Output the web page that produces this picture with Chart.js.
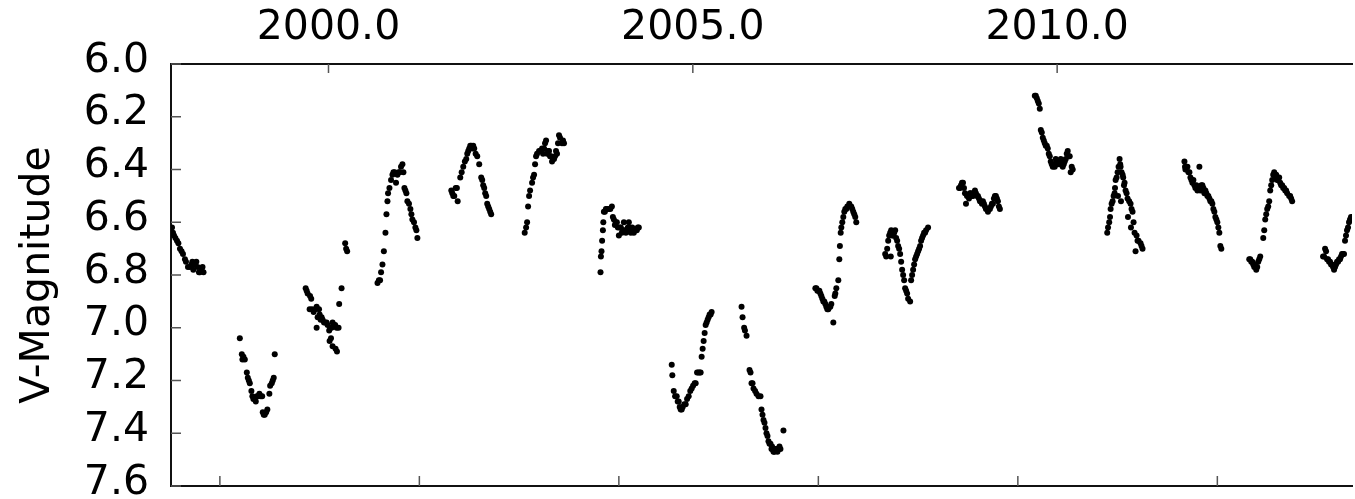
<!DOCTYPE html>
<html>
<head>
<meta charset="utf-8">
<title>V-Magnitude light curve</title>
<script src="https://cdn.jsdelivr.net/npm/chart.js@4.4.1/dist/chart.umd.min.js"></script>
<style>
  html, body { margin: 0; padding: 0; background: #fff; }
  #wrap { width: 1355px; height: 499px; position: relative; }
</style>
</head>
<body>
<div id="wrap"><canvas id="lightCurve"></canvas></div>
<script>
// Observations: JD - 2450000 and visual magnitude, one line per observing season
const JD_BASE = 2450000;

const jdObs = [
  760, 765, 770, 777, 785, 792, 800, 808, 815, 825, 830, 840, 850, 858, 862, 867, 875, 882, 888, 895, 900, 908, 913, 918,
  1100, 1110, 1113, 1118, 1125, 1135, 1140, 1145, 1150, 1158, 1163, 1168, 1175, 1180, 1185, 1192, 1198, 1205, 1212, 1215, 1220, 1225, 1232, 1238, 1248, 1252, 1260, 1265, 1270, 1275,
  1430, 1435, 1440, 1452, 1458, 1450, 1462, 1470, 1478, 1485, 1490, 1497, 1500, 1505, 1510, 1515, 1522, 1528, 1535, 1540, 1548, 1553, 1560, 1565, 1572, 1578, 1585, 1595, 1485, 1550, 1557, 1565, 1580, 1587, 1598, 1610, 1628, 1633, 1638,
  1790, 1797, 1803, 1808, 1815, 1822, 1830, 1835, 1840, 1843, 1850, 1858, 1865, 1870, 1876, 1883, 1890, 1896, 1902, 1908, 1915, 1920, 1925, 1930, 1935, 1940, 1948, 1955, 1960, 1965, 1973, 1980, 1985, 1990,
  2160, 2165, 2170, 2175, 2182, 2188, 2192, 2205, 2212, 2220, 2228, 2235, 2240, 2245, 2250, 2255, 2260, 2265, 2270, 2275, 2282, 2290, 2300, 2310, 2315, 2320, 2325, 2330, 2335, 2340, 2345, 2350, 2355, 2360,
  2528, 2535, 2540, 2545, 2550, 2555, 2565, 2570, 2575, 2580, 2585, 2590, 2600, 2607, 2615, 2620, 2625, 2630, 2635, 2640, 2645, 2650, 2655, 2660, 2665, 2670, 2675, 2680, 2685, 2690, 2695, 2700, 2705, 2715, 2720, 2725,
  2908, 2910, 2913, 2916, 2920, 2922, 2925, 2930, 2935, 2940, 2950, 2957, 2965, 2970, 2975, 2980, 2985, 2990, 2995, 3000, 3005, 3010, 3015, 3020, 3025, 3030, 3035, 3040, 3045, 3050, 3055, 3060, 3067, 3075, 3082, 3090, 3095, 3100,
  3265, 3268, 3275, 3282, 3290, 3295, 3300, 3305, 3310, 3315, 3320, 3328, 3335, 3342, 3350, 3358, 3365, 3372, 3380, 3385, 3392, 3398, 3405, 3410, 3415, 3420, 3425, 3430, 3435, 3440, 3445, 3450, 3455, 3460, 3465,
  3615, 3620, 3628, 3632, 3640, 3655, 3660, 3665, 3670, 3675, 3683, 3690, 3700, 3710, 3715, 3720, 3725, 3730, 3735, 3740, 3745, 3750, 3755, 3760, 3765, 3768, 3770, 3775, 3780, 3785, 3790, 3795, 3800, 3805, 3810, 3825,
  3985, 3990, 3995, 4000, 4005, 4010, 4015, 4020, 4025, 4030, 4035, 4040, 4045, 4050, 4055, 4060, 4065, 4075, 4082, 4085, 4090, 4100, 4105, 4108, 4112, 4115, 4120, 4125, 4130, 4135, 4140, 4145, 4150, 4155, 4160, 4165, 4170, 4175, 4180, 4185, 4190,
  4335, 4340, 4345, 4350, 4355, 4360, 4363, 4365, 4370, 4375, 4380, 4385, 4390, 4395, 4400, 4405, 4410, 4415, 4420, 4425, 4430, 4435, 4440, 4445, 4450, 4460, 4465, 4470, 4475, 4480, 4485, 4490, 4495, 4500, 4505, 4510, 4515, 4520, 4525, 4530, 4535, 4540, 4550,
  4705, 4710, 4715, 4720, 4725, 4730, 4735, 4740, 4745, 4750, 4755, 4760, 4765, 4770, 4775, 4780, 4785, 4790, 4795, 4800, 4805, 4810, 4815, 4820, 4825, 4830, 4835, 4840, 4845, 4850, 4855, 4860, 4865, 4870, 4875, 4880, 4885, 4890, 4895, 4900, 4905, 4910,
  5085, 5090, 5095, 5100, 5105, 5110, 5115, 5120, 5125, 5130, 5135, 5140, 5145, 5150, 5155, 5160, 5165, 5170, 5175, 5180, 5185, 5190, 5195, 5200, 5205, 5210, 5215, 5220, 5225, 5230, 5235, 5240, 5245, 5250, 5255, 5260, 5265, 5270, 5275,
  5448, 5452, 5458, 5462, 5465, 5470, 5475, 5480, 5485, 5487, 5490, 5495, 5500, 5502, 5505, 5510, 5513, 5515, 5517, 5520, 5525, 5528, 5532, 5535, 5540, 5545, 5550, 5552, 5558, 5565, 5567, 5570, 5575, 5580, 5585, 5590, 5595, 5600, 5605, 5615, 5620, 5625,
  5835, 5838, 5840, 5845, 5850, 5855, 5860, 5865, 5870, 5875, 5880, 5885, 5890, 5895, 5900, 5905, 5910, 5915, 5920, 5925, 5930, 5935, 5940, 5945, 5950, 5955, 5960, 5965, 5970, 5975, 5980, 5985, 5990, 5995, 6000, 6005, 6010, 6015, 6020,
  6160, 6165, 6170, 6175, 6180, 6185, 6190, 6195, 6200, 6205, 6210, 6215, 6230, 6235, 6240, 6245, 6250, 6255, 6260, 6265, 6270, 6275, 6280, 6285, 6290, 6295, 6300, 6305, 6310, 6315, 6320, 6325, 6330, 6335, 6340, 6345, 6350, 6360, 6365, 6370, 6375,
  6530, 6535, 6540, 6545, 6550, 6555, 6560, 6565, 6570, 6575, 6580, 6585, 6590, 6595, 6600, 6605, 6610, 6615, 6620, 6625, 6630, 6635, 6640, 6645, 6650, 6655, 6660, 6665, 6670
];

const vMag = [
  6.62, 6.64, 6.65, 6.66, 6.67, 6.68, 6.70, 6.71, 6.72, 6.74, 6.75, 6.77, 6.77, 6.76, 6.75, 6.78, 6.76, 6.75, 6.77, 6.79, 6.79, 6.78, 6.77, 6.79,
  7.04, 7.10, 7.12, 7.11, 7.12, 7.17, 7.19, 7.20, 7.21, 7.24, 7.26, 7.27, 7.27, 7.28, 7.26, 7.26, 7.25, 7.26, 7.26, 7.32, 7.33, 7.33, 7.32, 7.31, 7.25, 7.22, 7.21, 7.20, 7.19, 7.10,
  6.85, 6.86, 6.87, 6.88, 6.89, 6.93, 6.93, 6.94, 6.93, 6.92, 6.96, 6.93, 6.95, 6.97, 6.96, 6.97, 6.98, 6.98, 6.98, 6.99, 7.01, 7.00, 7.00, 6.98, 6.99, 6.99, 7.00, 7.00, 7.00, 7.05, 7.04, 7.07, 7.08, 7.09, 6.91, 6.85, 6.68, 6.70, 6.71,
  6.83, 6.82, 6.82, 6.79, 6.76, 6.71, 6.64, 6.57, 6.52, 6.49, 6.47, 6.44, 6.42, 6.41, 6.41, 6.45, 6.42, 6.41, 6.41, 6.39, 6.38, 6.41, 6.47, 6.48, 6.49, 6.52, 6.53, 6.55, 6.57, 6.59, 6.60, 6.62, 6.63, 6.66,
  6.48, 6.49, 6.50, 6.50, 6.47, 6.47, 6.52, 6.43, 6.41, 6.39, 6.37, 6.36, 6.34, 6.33, 6.32, 6.31, 6.31, 6.32, 6.31, 6.32, 6.34, 6.35, 6.38, 6.43, 6.44, 6.46, 6.47, 6.49, 6.50, 6.53, 6.54, 6.55, 6.56, 6.57,
  6.64, 6.62, 6.60, 6.54, 6.50, 6.48, 6.45, 6.43, 6.42, 6.38, 6.35, 6.34, 6.33, 6.33, 6.32, 6.34, 6.32, 6.30, 6.29, 6.34, 6.33, 6.33, 6.35, 6.35, 6.37, 6.36, 6.36, 6.35, 6.33, 6.34, 6.30, 6.27, 6.28, 6.30, 6.29, 6.30,
  6.79, 6.73, 6.71, 6.67, 6.63, 6.60, 6.56, 6.56, 6.55, 6.55, 6.55, 6.55, 6.54, 6.58, 6.59, 6.61, 6.60, 6.60, 6.62, 6.65, 6.62, 6.62, 6.64, 6.63, 6.60, 6.63, 6.64, 6.63, 6.62, 6.60, 6.62, 6.64, 6.62, 6.64, 6.63, 6.63, 6.62, 6.62,
  7.14, 7.18, 7.24, 7.26, 7.26, 7.28, 7.28, 7.30, 7.31, 7.31, 7.30, 7.29, 7.29, 7.27, 7.26, 7.24, 7.23, 7.22, 7.21, 7.21, 7.17, 7.17, 7.17, 7.17, 7.11, 7.08, 7.05, 7.02, 6.99, 6.98, 6.97, 6.96, 6.95, 6.95, 6.94,
  6.92, 6.96, 7.00, 7.01, 7.03, 7.16, 7.17, 7.21, 7.21, 7.23, 7.24, 7.25, 7.26, 7.26, 7.31, 7.33, 7.35, 7.36, 7.38, 7.40, 7.41, 7.43, 7.44, 7.44, 7.46, 7.45, 7.46, 7.47, 7.47, 7.46, 7.46, 7.47, 7.46, 7.45, 7.46, 7.39,
  6.85, 6.85, 6.86, 6.86, 6.86, 6.87, 6.88, 6.89, 6.90, 6.90, 6.91, 6.92, 6.93, 6.93, 6.92, 6.92, 6.91, 6.98, 6.88, 6.87, 6.85, 6.82, 6.74, 6.69, 6.64, 6.62, 6.60, 6.58, 6.56, 6.55, 6.55, 6.54, 6.54, 6.53, 6.54, 6.54, 6.55, 6.56, 6.57, 6.58, 6.60,
  6.72, 6.73, 6.70, 6.67, 6.65, 6.64, 6.73, 6.63, 6.65, 6.65, 6.64, 6.63, 6.66, 6.67, 6.69, 6.70, 6.72, 6.75, 6.78, 6.80, 6.82, 6.85, 6.86, 6.87, 6.89, 6.90, 6.82, 6.80, 6.78, 6.76, 6.74, 6.73, 6.72, 6.71, 6.70, 6.69, 6.67, 6.66, 6.65, 6.64, 6.64, 6.63, 6.62,
  6.47, 6.47, 6.46, 6.45, 6.45, 6.47, 6.49, 6.53, 6.50, 6.50, 6.51, 6.49, 6.49, 6.50, 6.50, 6.49, 6.48, 6.49, 6.50, 6.50, 6.51, 6.52, 6.52, 6.53, 6.52, 6.53, 6.54, 6.55, 6.55, 6.56, 6.55, 6.55, 6.54, 6.53, 6.53, 6.51, 6.50, 6.50, 6.51, 6.52, 6.54, 6.55,
  6.12, 6.12, 6.13, 6.14, 6.15, 6.17, 6.25, 6.26, 6.28, 6.29, 6.30, 6.31, 6.31, 6.32, 6.34, 6.35, 6.37, 6.38, 6.39, 6.38, 6.39, 6.36, 6.37, 6.38, 6.37, 6.38, 6.36, 6.37, 6.39, 6.38, 6.37, 6.36, 6.34, 6.33, 6.35, 6.35, 6.41, 6.39, 6.40,
  6.64, 6.62, 6.60, 6.58, 6.55, 6.53, 6.52, 6.50, 6.49, 6.47, 6.44, 6.43, 6.41, 6.50, 6.39, 6.36, 6.38, 6.39, 6.52, 6.41, 6.42, 6.43, 6.46, 6.45, 6.48, 6.49, 6.51, 6.58, 6.52, 6.53, 6.62, 6.55, 6.56, 6.60, 6.64, 6.71, 6.65, 6.67, 6.67, 6.68, 6.69, 6.70,
  6.37, 6.39, 6.40, 6.39, 6.39, 6.41, 6.41, 6.43, 6.44, 6.45, 6.44, 6.46, 6.47, 6.46, 6.48, 6.47, 6.39, 6.48, 6.46, 6.46, 6.47, 6.49, 6.48, 6.49, 6.50, 6.50, 6.51, 6.52, 6.52, 6.53, 6.55, 6.56, 6.58, 6.59, 6.60, 6.62, 6.64, 6.69, 6.70,
  6.74, 6.74, 6.75, 6.75, 6.76, 6.77, 6.76, 6.78, 6.77, 6.75, 6.74, 6.73, 6.66, 6.63, 6.59, 6.57, 6.55, 6.54, 6.52, 6.48, 6.46, 6.44, 6.42, 6.41, 6.43, 6.42, 6.44, 6.44, 6.43, 6.45, 6.46, 6.46, 6.47, 6.47, 6.48, 6.48, 6.49, 6.50, 6.50, 6.51, 6.52,
  6.73, 6.73, 6.70, 6.71, 6.74, 6.74, 6.75, 6.75, 6.76, 6.76, 6.77, 6.78, 6.77, 6.76, 6.75, 6.75, 6.74, 6.74, 6.73, 6.72, 6.72, 6.72, 6.67, 6.65, 6.63, 6.62, 6.60, 6.59, 6.58
];

// Axis ticks and ranges
const jdTicks = [1000, 2000, 3000, 4000, 5000, 6000];
const yearTicks = [2000, 2005, 2010];
const magTicks = [6.0, 6.2, 6.4, 6.6, 6.8, 7.0, 7.2, 7.4, 7.6];
const jdRange = [755, 6675];
const magRange = [6.0, 7.6];

// decimal year for a JD - 2450000 value
function jdToYear(jd) {
  return 2000 + (jd + JD_BASE - 2451544.5) / 365.25;
}

const n = Math.min(jdObs.length, vMag.length);
const points = [];
for (let i = 0; i < n; i++) points.push({ x: jdObs[i], y: vMag[i] });

const FONT = "'DejaVu Sans', 'Liberation Sans', sans-serif";
Chart.defaults.font.family = FONT;
Chart.defaults.color = '#000';

function fixTicks(values) {
  return (scale) => { scale.ticks = values.map(v => ({ value: v })); };
}

// tick marks point into the plot, like the frame they sit on
const inwardTicks = {
  id: 'inwardTicks',
  afterDraw(chart) {
    const { ctx, chartArea: a, scales } = chart;
    ctx.save();
    ctx.strokeStyle = '#555';
    ctx.lineWidth = 1.5;
    ctx.beginPath();
    magTicks.forEach(v => {
      const py = scales.y.getPixelForValue(v);
      ctx.moveTo(a.left, py);
      ctx.lineTo(a.left + 10, py);
    });
    jdTicks.forEach(v => {
      const px = scales.x.getPixelForValue(v);
      ctx.moveTo(px, a.bottom);
      ctx.lineTo(px, a.bottom - 10);
    });
    yearTicks.forEach(v => {
      const px = scales.x2.getPixelForValue(v);
      ctx.moveTo(px, a.top);
      ctx.lineTo(px, a.top + 9);
    });
    ctx.stroke();
    ctx.restore();
  }
};

const frame = { display: true, color: '#111', width: 2 };
const noGrid = { display: false, drawTicks: false };

new Chart(document.getElementById('lightCurve'), {
  type: 'scatter',
  data: {
    datasets: [{
      label: 'V',
      data: points,
      backgroundColor: '#000',
      borderWidth: 0,
      pointRadius: 3,
      pointHoverRadius: 3
    }]
  },
  options: {
    responsive: true,
    maintainAspectRatio: false,
    animation: false,
    layout: { padding: 0 },
    plugins: { legend: { display: false }, tooltip: { enabled: false } },
    scales: {
      x: {
        type: 'linear',
        position: 'bottom',
        min: jdRange[0],
        max: jdRange[1],
        afterBuildTicks: fixTicks(jdTicks),
        ticks: { display: false },
        grid: noGrid,
        border: frame,
        afterFit: (s) => { s.height = 13; s.paddingLeft = 0; s.paddingRight = 0; }
      },
      x2: {
        type: 'linear',
        axis: 'x',
        position: 'top',
        min: jdToYear(jdRange[0]),
        max: jdToYear(jdRange[1]),
        afterBuildTicks: fixTicks(yearTicks),
        ticks: {
          padding: 11,
          maxRotation: 0,
          font: { size: 41 },
          color: '#000',
          callback: (v) => Number(v).toFixed(1)
        },
        grid: noGrid,
        border: frame,
        afterFit: (s) => { s.height = 64; s.paddingLeft = 0; s.paddingRight = 0; }
      },
      y: {
        type: 'linear',
        reverse: true,
        min: magRange[0],
        max: magRange[1],
        afterBuildTicks: fixTicks(magTicks),
        ticks: {
          padding: 22,
          labelOffset: -3,
          font: { size: 41 },
          color: '#000',
          callback: (v) => Number(v).toFixed(1)
        },
        title: {
          display: true,
          text: 'V-Magnitude',
          font: { size: 41 },
          color: '#000',
          padding: { top: 14, bottom: 0 }
        },
        grid: noGrid,
        border: frame,
        afterFit: (s) => { s.width = 171; s.paddingTop = 0; s.paddingBottom = 0; }
      }
    }
  },
  plugins: [inwardTicks]
});
</script>
</body>
</html>
